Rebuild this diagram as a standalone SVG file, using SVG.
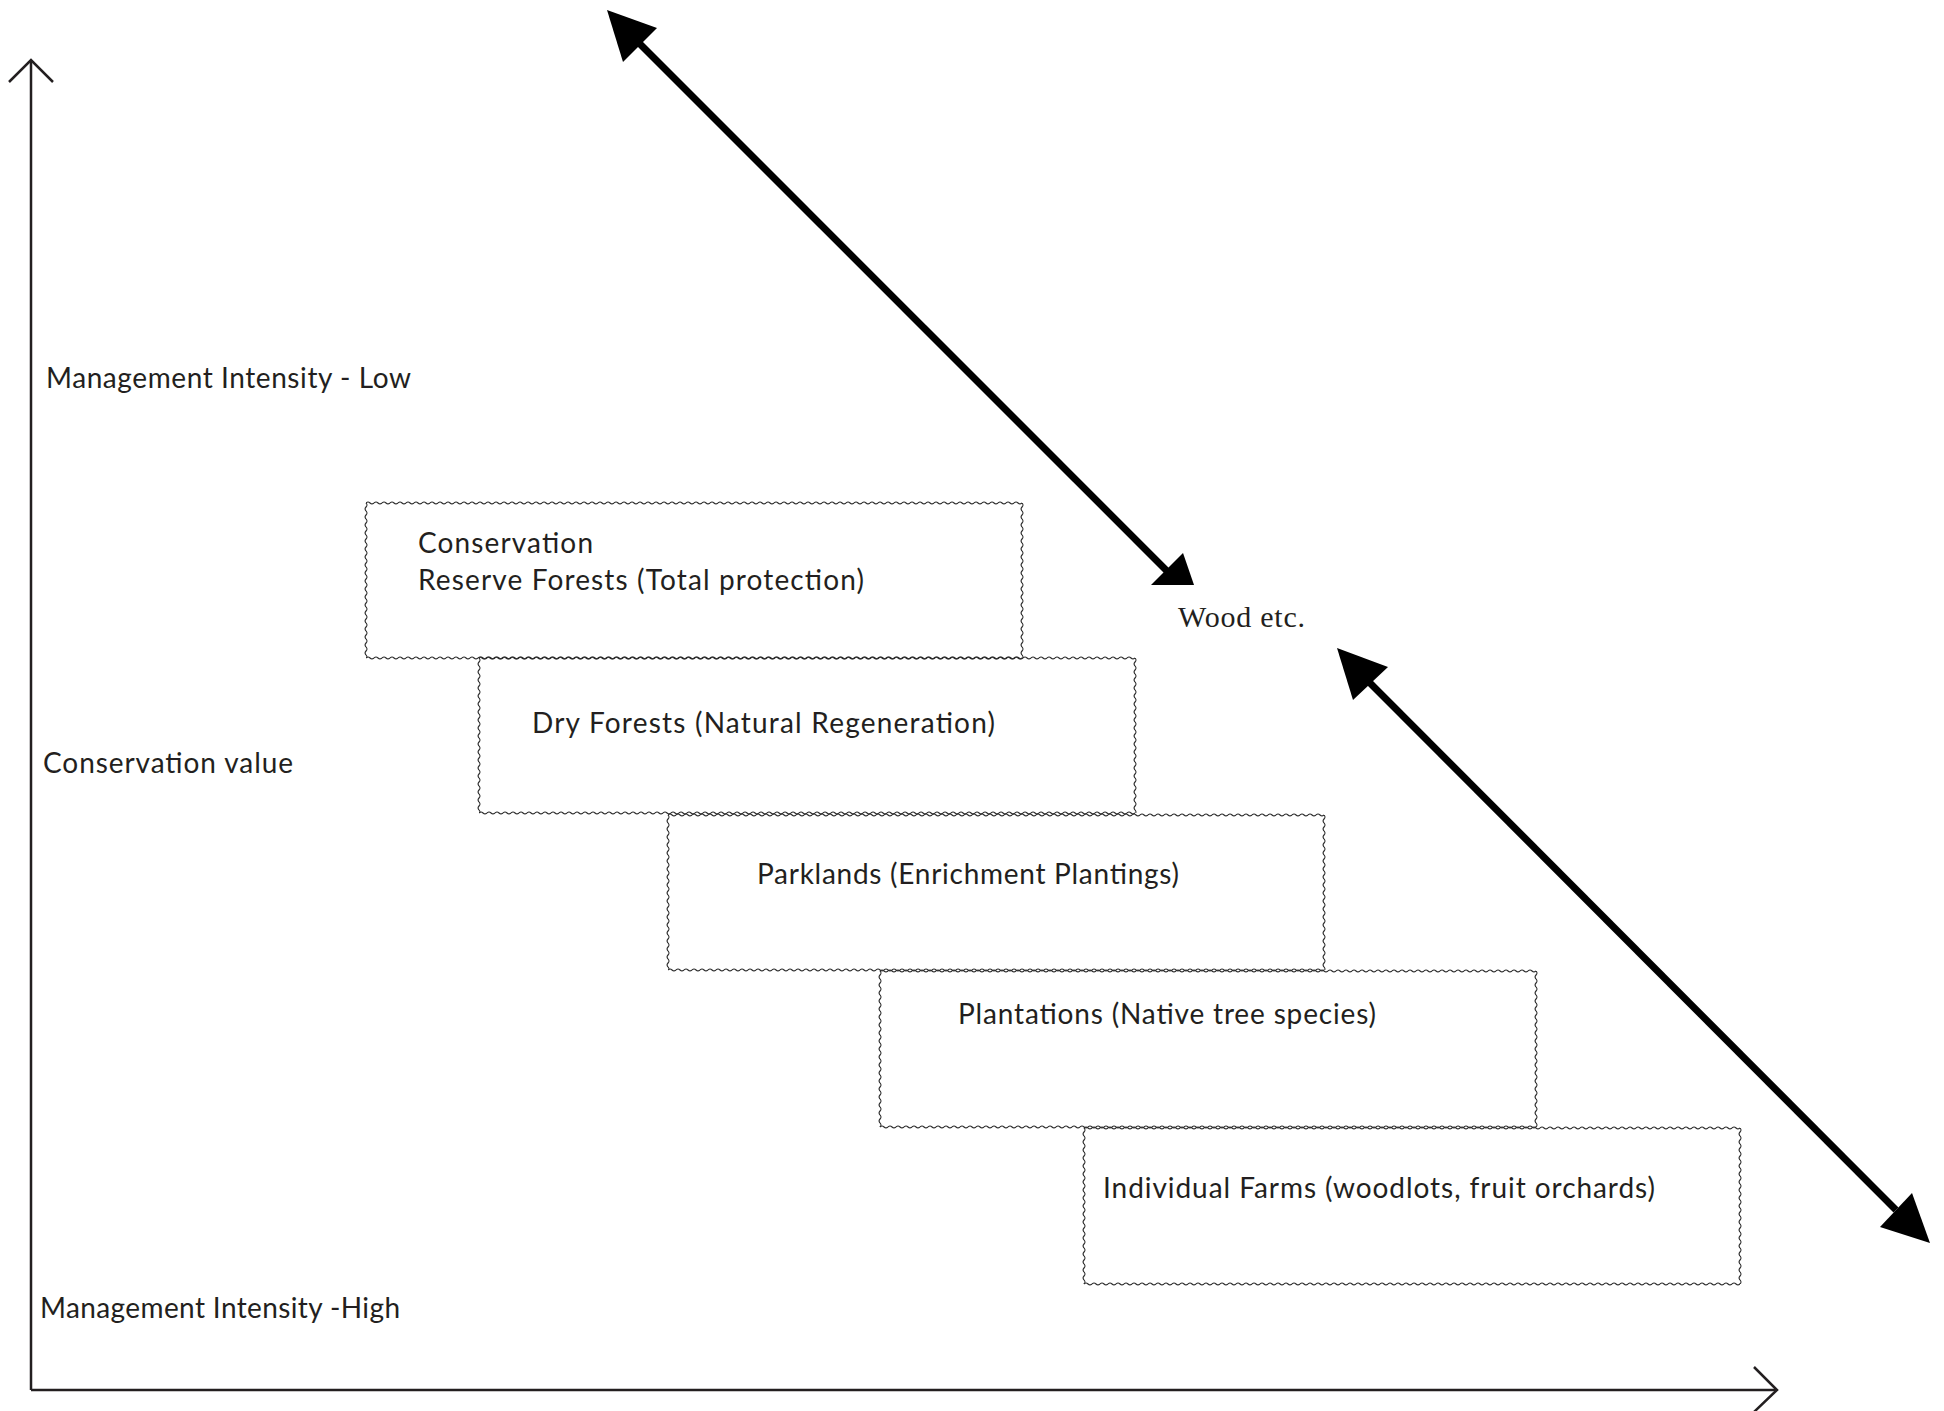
<svg xmlns="http://www.w3.org/2000/svg" width="1944" height="1411" viewBox="0 0 1944 1411">
<style>
  .lbl { font-family: Lato, "Open Sans", "Liberation Sans", sans-serif; font-size: 28px; fill: #231f20; }
  .serif { font-family: "Liberation Serif", "DejaVu Serif", serif; font-size: 30px; fill: #231f20; }
  .axis { stroke: #231f20; stroke-width: 2.5; fill: none; }
  .chev { stroke: #231f20; stroke-width: 2.5; fill: none; stroke-linejoin: miter; }
  .thick { stroke: #000; stroke-width: 7; fill: none; }
  .head { fill: #000; stroke: none; }
  .wh { fill: url(#waveH); }
</style>
<defs>
  <pattern id="waveH" patternUnits="userSpaceOnUse" x="0" y="-2" width="8" height="4">
    <path d="M0,2 Q2,0 4,2 T8,2" fill="none" stroke="#2a2a2a" stroke-width="1.1"/>
  </pattern>
</defs>
<rect width="1944" height="1411" fill="#ffffff"/>

<g id="axes">
  <line class="axis" x1="31" y1="1390" x2="31" y2="61"/>
  <polyline class="chev" points="9,82 31,60 53,82"/>
  <line class="axis" x1="31" y1="1390" x2="1776" y2="1390"/>
  <polyline class="chev" points="1754,1367 1777,1390 1754,1412"/>
</g>

<g id="label-low">
  <text class="lbl" x="46" y="388" textLength="365">Management Intensity - Low</text>
</g>
<g id="label-conservation-value">
  <text class="lbl" x="43" y="773" textLength="250">Conservation value</text>
</g>
<g id="label-high">
  <text class="lbl" x="40" y="1318" textLength="360">Management Intensity -High</text>
</g>

<g id="node-reserve-forests">
  <g transform="translate(366,503)">
    <rect width="656" height="155" fill="none"/>
    <rect class="wh" x="0" y="-2" width="656" height="4"/>
    <rect class="wh" x="0" y="-2" width="656" height="4" transform="translate(0,155)"/>
    <rect class="wh" x="0" y="-2" width="155" height="4" transform="rotate(90)"/>
    <rect class="wh" x="0" y="-2" width="155" height="4" transform="translate(656,0) rotate(90)"/>
  </g>
  <text class="lbl" x="418" y="553" textLength="175">Conservation</text>
  <text class="lbl" x="418" y="590" textLength="446">Reserve Forests (Total protection)</text>
</g>

<g id="node-dry-forests">
  <g transform="translate(479,658)">
    <rect width="656" height="155" fill="none"/>
    <rect class="wh" x="0" y="-2" width="656" height="4"/>
    <rect class="wh" x="0" y="-2" width="656" height="4" transform="translate(0,155)"/>
    <rect class="wh" x="0" y="-2" width="155" height="4" transform="rotate(90)"/>
    <rect class="wh" x="0" y="-2" width="155" height="4" transform="translate(656,0) rotate(90)"/>
  </g>
  <text class="lbl" x="532" y="733" textLength="463">Dry Forests (Natural Regeneration)</text>
</g>

<g id="node-parklands">
  <g transform="translate(668,815)">
    <rect width="656" height="155" fill="none"/>
    <rect class="wh" x="0" y="-2" width="656" height="4"/>
    <rect class="wh" x="0" y="-2" width="656" height="4" transform="translate(0,155)"/>
    <rect class="wh" x="0" y="-2" width="155" height="4" transform="rotate(90)"/>
    <rect class="wh" x="0" y="-2" width="155" height="4" transform="translate(656,0) rotate(90)"/>
  </g>
  <text class="lbl" x="757" y="884" textLength="422">Parklands (Enrichment Plantings)</text>
</g>

<g id="node-plantations">
  <g transform="translate(880,971)">
    <rect width="656" height="156" fill="none"/>
    <rect class="wh" x="0" y="-2" width="656" height="4"/>
    <rect class="wh" x="0" y="-2" width="656" height="4" transform="translate(0,156)"/>
    <rect class="wh" x="0" y="-2" width="156" height="4" transform="rotate(90)"/>
    <rect class="wh" x="0" y="-2" width="156" height="4" transform="translate(656,0) rotate(90)"/>
  </g>
  <text class="lbl" x="958" y="1024" textLength="418">Plantations (Native tree species)</text>
</g>

<g id="node-individual-farms">
  <g transform="translate(1084,1128)">
    <rect width="656" height="156" fill="none"/>
    <rect class="wh" x="0" y="-2" width="656" height="4"/>
    <rect class="wh" x="0" y="-2" width="656" height="4" transform="translate(0,156)"/>
    <rect class="wh" x="0" y="-2" width="156" height="4" transform="rotate(90)"/>
    <rect class="wh" x="0" y="-2" width="156" height="4" transform="translate(656,0) rotate(90)"/>
  </g>
  <text class="lbl" x="1103" y="1198" textLength="552">Individual Farms (woodlots, fruit orchards)</text>
</g>

<g id="node-wood">
  <text class="serif" x="1178" y="627" textLength="127">Wood etc.</text>
</g>

<g id="connectors">
  <line class="thick" x1="640" y1="44" x2="1168" y2="572"/>
  <polygon class="head" points="607,10 657,28 623,62"/>
  <polygon class="head" points="1183,553 1194,585 1151,585"/>
  <line class="thick" x1="1370" y1="683" x2="1896" y2="1210"/>
  <polygon class="head" points="1337,648 1388,667 1353,700"/>
  <polygon class="head" points="1930,1243 1912,1193 1880,1227"/>
</g>
</svg>
